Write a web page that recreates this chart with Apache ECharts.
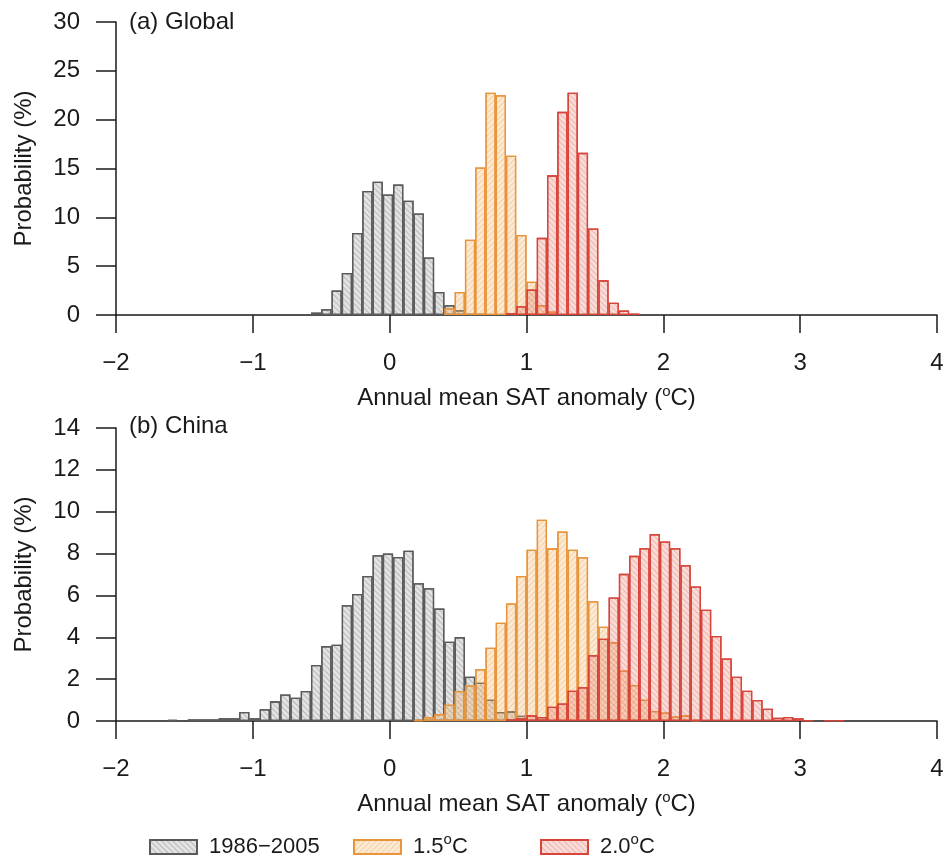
<!DOCTYPE html>
<html>
<head>
<meta charset="utf-8">
<script src="https://cdn.jsdelivr.net/npm/echarts@6/dist/echarts.min.js"></script>
<style>
  html, body { margin: 0; padding: 0; background: #fff; }
  #chart { width: 946px; height: 860px; }
</style>
</head>
<body>
<div id="chart"></div>
<script>
// histogram bins: 0.075 degC wide, from -2 to 4
const binWidth = 0.075
const binCount = 80
const xStart = -2

const seriesNames = ['1986\u22122005', '1.5°C', '2.0°C']

// (a) Global -- first bin left edge, then probabilities (%)
const globalBaseStart = -0.575
const globalBase = [0.25, 0.6, 2.5, 4.3, 8.4, 12.7, 13.65, 12.35, 13.35, 11.7, 10.4, 5.9, 2.35, 1.0, 0.5, 0.1, 0.1]
const global15Start = 0.4
const global15 = [0.7, 2.35, 7.7, 15.1, 22.75, 22.5, 16.3, 8.2, 3.4, 1.0, 0.35]
const global20Start = 0.85
const global20 = [0.2, 0.9, 2.6, 7.9, 14.3, 20.8, 22.75, 16.6, 8.85, 3.55, 1.25, 0.45, 0.15]

// (b) China
const chinaBaseStart = -1.625
const chinaBase = [0.05, null, 0.08, 0.08, 0.08, 0.13, 0.13, 0.43, 0.13, 0.56, 0.94, 1.27, 1.11, 1.43,
  2.68, 3.58, 3.64, 5.53, 6.07, 6.93, 7.92, 8.0, 7.84, 8.14, 6.58, 6.34, 5.37, 3.79, 4.01, 2.12,
  1.83, 1.02, 0.43, 0.46, 0.25, 0.06, 0.1, 0.03]
const china15Start = 0.175
const china15 = [0.05, 0.18, 0.33, 0.78, 1.43, 1.7, 2.47, 3.5, 4.7, 5.62, 6.93, 8.18, 9.62, 8.25,
  9.06, 8.18, 7.83, 5.72, 4.5, 3.76, 2.41, 1.72, 1.02, 0.48, 0.41, 0.22, 0.27, 0.05]
const china20Start = 0.85
const china20 = [0.08, 0.13, 0.27, 0.19, 0.68, 0.84, 1.45, 1.61, 3.14, 3.93, 5.9, 7.03, 7.89, 8.26,
  8.93, 8.58, 8.26, 7.44, 6.43, 5.32, 4.06, 2.99, 2.12, 1.45, 1.0, 0.59, 0.16, 0.19, 0.13, 0.03,
  null, 0.03, 0.03]

const xTicks = [-2, -1, 0, 1, 2, 3, 4]

const font = '"Liberation Sans", Arial, Helvetica, sans-serif'
const ink = '#1a1a1a'

const binLabels = []
for (let i = 0; i < binCount; i++) binLabels.push((xStart + i * binWidth).toFixed(3))

const place = (start, values) => {
  const out = new Array(binCount).fill(null)
  const first = Math.round((start - xStart) / binWidth)
  values.forEach((v, i) => { out[first + i] = v })
  return out
}

const styles = [
  { color: 'rgba(200,200,200,0.5)', borderColor: '#5a5a5a',
    decal: { symbol: 'rect', symbolSize: 1, dashArrayX: [1, 0], dashArrayY: [1, 3], rotation: Math.PI / 4, color: 'rgba(90,90,90,0.3)' } },
  { color: 'rgba(245,180,105,0.28)', borderColor: '#e8943a',
    decal: { symbol: 'rect', symbolSize: 1, dashArrayX: [1, 0], dashArrayY: [1, 3], rotation: -Math.PI / 4, color: 'rgba(230,150,60,0.3)' } },
  { color: 'rgba(225,115,95,0.25)', borderColor: '#d8433a',
    decal: { symbol: 'rect', symbolSize: 1, dashArrayX: [1, 0], dashArrayY: [1, 3], rotation: Math.PI / 4, color: 'rgba(215,80,65,0.28)' } },
]

const makeBars = (axisIndex, sets) => sets.map((data, k) => ({
  name: seriesNames[k],
  type: 'bar',
  xAxisIndex: axisIndex * 2,
  yAxisIndex: axisIndex,
  data: data,
  barWidth: '100%',
  barGap: '-100%',
  animation: false,
  itemStyle: { ...styles[k], borderWidth: 1.3 },
}))

const sup = { fontSize: 15, fontFamily: font, color: ink, padding: [0, 0, 14, 0] }

const valueX = (gridIndex) => ({
  type: 'value',
  gridIndex,
  min: xTicks[0],
  max: xTicks[xTicks.length - 1],
  interval: 1,
  position: 'bottom',
  axisLine: { show: true, onZero: false, lineStyle: { color: ink, width: 1.5 } },
  axisTick: { show: true, length: 18, lineStyle: { color: ink, width: 1.5 } },
  splitLine: { show: false },
  axisLabel: {
    margin: 36, fontSize: 24, fontFamily: font, color: ink,
    formatter: (v) => String(v).replace('-', '\u2212'),
  },
  name: 'Annual mean SAT anomaly ({sup|o}C)',
  nameLocation: 'middle',
  nameGap: 69,
  nameMoveOverlap: false,
  nameTextStyle: { fontSize: 24, fontFamily: font, color: ink, rich: { sup } },
})

const catX = (gridIndex) => ({
  type: 'category',
  gridIndex,
  data: binLabels,
  show: false,
  boundaryGap: true,
})

const valueY = (gridIndex, max, interval) => ({
  type: 'value',
  gridIndex,
  min: 0,
  max,
  interval,
  axisLine: { show: true, onZero: false, lineStyle: { color: ink, width: 1.5 } },
  axisTick: { show: true, length: 20, lineStyle: { color: ink, width: 1.5 } },
  splitLine: { show: false },
  axisLabel: { margin: 36, fontSize: 24, fontFamily: font, color: ink },
  name: 'Probability (%)',
  nameLocation: 'middle',
  nameGap: 80,
  nameMoveOverlap: false,
  nameTextStyle: { fontSize: 24, fontFamily: font, color: ink },
})

const legendAt = (k, left) => ({
  left,
  top: 832,
  padding: 0,
  orient: 'horizontal',
  itemWidth: 47,
  itemHeight: 14,
  icon: 'rect',
  selectedMode: false,
  data: [seriesNames[k]],
  formatter: (name) => name.replace('°', '{sup|o}'),
  textStyle: {
    fontSize: 22, lineHeight: 30, fontFamily: font, color: ink, padding: [0, 0, 0, 7],
    rich: { sup: { ...sup, lineHeight: 15 } },
  },
})

const chart = echarts.init(document.getElementById('chart'))
chart.setOption({
  backgroundColor: '#fff',
  animation: false,
  title: [
    { text: '(a) Global', left: 124, top: 5, textStyle: { fontSize: 24, fontWeight: 'normal', fontFamily: font, color: ink } },
    { text: '(b) China', left: 124, top: 409, textStyle: { fontSize: 24, fontWeight: 'normal', fontFamily: font, color: ink } },
  ],
  grid: [
    { left: 116, right: 9, top: 22, height: 293, outerBoundsMode: 'none' },
    { left: 116, right: 9, top: 428, height: 293, outerBoundsMode: 'none' },
  ],
  xAxis: [catX(0), valueX(0), catX(1), valueX(1)],
  yAxis: [valueY(0, 30, 5), valueY(1, 14, 2)],
  legend: [legendAt(0, 149), legendAt(1, 353), legendAt(2, 540)],
  series: [
    ...makeBars(0, [
      place(globalBaseStart, globalBase),
      place(global15Start, global15),
      place(global20Start, global20),
    ]),
    ...makeBars(1, [
      place(chinaBaseStart, chinaBase),
      place(china15Start, china15),
      place(china20Start, china20),
    ]),
  ],
})
</script>
</body>
</html>
